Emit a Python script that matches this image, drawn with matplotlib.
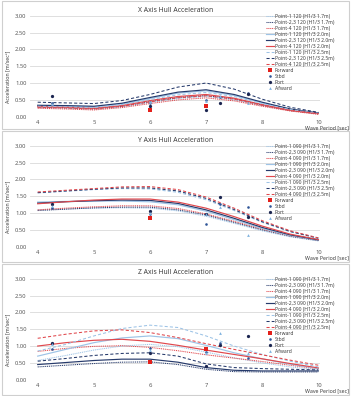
import matplotlib.pyplot as plt
import matplotlib.patches as patches
import numpy as np

plt.rcParams['font.family'] = ['Noto Sans', 'DejaVu Sans']

nan = float('nan')

# x axis categories (evenly spaced in the original sheet)
periods = ['4', '5', '6', '7', '8', '10']
# positions of the curve samples along the category axis
curve_pos = [0, 0.5, 1, 1.5, 2, 2.5, 3, 3.5, 4, 4.5, 5]
# positions of the measured points
meas_pos = [0.25, 2, 3, 3.25, 3.75]

# ---- X axis hull acceleration (heading 120)
x_p1_17 = [0.27, 0.25, 0.22, 0.29, 0.42, 0.54, 0.60, 0.50, 0.33, 0.18, 0.08]
x_p23_17 = [0.29, 0.27, 0.24, 0.31, 0.45, 0.57, 0.63, 0.53, 0.35, 0.19, 0.09]
x_p4_17 = [0.25, 0.23, 0.20, 0.27, 0.39, 0.50, 0.56, 0.47, 0.31, 0.17, 0.07]
x_p1_20 = [0.32, 0.31, 0.29, 0.38, 0.54, 0.70, 0.77, 0.63, 0.41, 0.22, 0.11]
x_p23_20 = [0.34, 0.33, 0.31, 0.40, 0.57, 0.73, 0.80, 0.66, 0.43, 0.23, 0.11]
x_p4_20 = [0.30, 0.28, 0.25, 0.33, 0.48, 0.60, 0.66, 0.55, 0.36, 0.19, 0.09]
x_p1_25 = [0.31, 0.29, 0.27, 0.36, 0.51, 0.65, 0.72, 0.60, 0.39, 0.21, 0.10]
x_p23_25 = [0.43, 0.41, 0.39, 0.48, 0.66, 0.88, 1.00, 0.82, 0.52, 0.28, 0.13]
x_p4_25 = [0.28, 0.26, 0.23, 0.31, 0.44, 0.56, 0.62, 0.52, 0.34, 0.18, 0.09]
x_forward = [nan, 0.20, 0.31, nan, nan]
x_stbd = [0.40, 0.40, 0.51, 0.58, 0.70]
x_port = [0.61, 0.31, 0.20, 0.41, 0.68]
x_afward = [0.37, 0.43, 0.48, 0.61, 0.40]

# ---- Y axis hull acceleration (heading 090)
y_p1_17 = [1.10, 1.13, 1.15, 1.16, 1.15, 1.07, 0.91, 0.70, 0.48, 0.30, 0.18]
y_p23_17 = [1.08, 1.12, 1.16, 1.18, 1.18, 1.10, 0.95, 0.73, 0.51, 0.32, 0.19]
y_p4_17 = [1.10, 1.15, 1.19, 1.22, 1.22, 1.14, 0.98, 0.76, 0.53, 0.33, 0.20]
y_p1_20 = [1.33, 1.35, 1.36, 1.36, 1.34, 1.25, 1.06, 0.81, 0.55, 0.34, 0.20]
y_p23_20 = [1.30, 1.34, 1.37, 1.39, 1.38, 1.29, 1.10, 0.85, 0.58, 0.36, 0.21]
y_p4_20 = [1.28, 1.34, 1.39, 1.42, 1.42, 1.33, 1.15, 0.90, 0.62, 0.38, 0.22]
y_p1_25 = [1.60, 1.65, 1.70, 1.73, 1.72, 1.62, 1.40, 1.08, 0.73, 0.45, 0.26]
y_p23_25 = [1.61, 1.66, 1.71, 1.75, 1.75, 1.66, 1.44, 1.11, 0.75, 0.46, 0.26]
y_p4_25 = [1.63, 1.68, 1.73, 1.78, 1.79, 1.70, 1.48, 1.15, 0.78, 0.48, 0.27]
y_forward = [nan, 0.87, nan, nan, nan]
y_stbd = [1.15, 0.97, 0.68, 1.26, 1.17]
y_port = [1.28, 1.07, 0.98, 1.47, 0.88]
y_afward = [1.20, 1.00, 0.97, 1.18, 0.37]

# ---- Z axis hull acceleration (heading 090)
z_p1_17 = [0.57, 0.72, 0.88, 1.00, 1.05, 0.98, 0.82, 0.65, 0.50, 0.38, 0.29]
z_p23_17 = [0.38, 0.43, 0.48, 0.52, 0.53, 0.45, 0.31, 0.24, 0.23, 0.23, 0.23]
z_p4_17 = [0.84, 0.93, 0.99, 1.01, 0.96, 0.86, 0.74, 0.64, 0.54, 0.43, 0.32]
z_p1_20 = [0.70, 0.90, 1.10, 1.24, 1.30, 1.22, 1.02, 0.80, 0.62, 0.46, 0.33]
z_p23_20 = [0.45, 0.51, 0.57, 0.61, 0.61, 0.52, 0.36, 0.28, 0.26, 0.26, 0.26]
z_p4_20 = [1.00, 1.10, 1.17, 1.20, 1.14, 1.02, 0.88, 0.75, 0.62, 0.48, 0.35]
z_p1_25 = [0.85, 1.05, 1.30, 1.52, 1.62, 1.55, 1.30, 1.00, 0.75, 0.55, 0.38]
z_p23_25 = [0.55, 0.63, 0.72, 0.78, 0.80, 0.70, 0.47, 0.36, 0.33, 0.31, 0.29]
z_p4_25 = [1.23, 1.35, 1.45, 1.48, 1.40, 1.25, 1.07, 0.90, 0.74, 0.58, 0.43]
z_forward = [nan, 0.53, 0.92, nan, nan]
z_stbd = [0.92, 0.95, 0.82, 1.08, 0.64]
z_port = [1.10, 0.80, 0.42, 1.02, 1.30]
z_afward = [1.05, 0.88, 0.80, 1.38, 0.80]

W, H = 351, 396

col_p1 = '#9dc3e6'
col_p23 = '#263a6b'
col_p4 = '#e0474c'
dotted = (0, (1, 0.8))
dashed = (0, (3, 2))


def px_axes(fig, left, top, right, bottom):
    return fig.add_axes([left / W, 1 - bottom / H, (right - left) / W, (bottom - top) / H])


def draw_panel(fig, box, top, bottom, title, hdg, curves, points):
    # panel frame
    fig.add_artist(patches.Rectangle((2 / W, 1 - box[1] / H), 347 / W, (box[1] - box[0]) / H,
                                     transform=fig.transFigure, fill=False, ec='#cfcfcf', lw=0.8))
    ax = px_axes(fig, 30, top, 320, bottom)

    styles = [('Point-1', col_p1), ('Point-2,3', col_p23), ('Point-4', col_p4)]
    heights = [('1.7m', dotted, 0.75), ('2.0m', '-', 0.85), ('2.5m', dashed, 0.75)]
    i = 0
    for hname, ls, lw in heights:
        for pname, col in styles:
            ax.plot(curve_pos, curves[i], color=col, ls=ls, lw=lw,
                    label=f'{pname} {hdg} (H1/3 {hname})')
            i += 1

    fwd, stbd, port, afw = points
    ax.scatter(meas_pos, fwd, marker='s', s=5, color='#e3201b', lw=0, label='Forward', zorder=5)
    ax.scatter(meas_pos, stbd, marker='o', s=3.5, color='#2f5597', lw=0, label='Stbd', zorder=5)
    ax.scatter(meas_pos, port, marker='o', s=5.5, color='#1b2550', lw=0, label='Port', zorder=5)
    ax.scatter(meas_pos, afw, marker='^', s=4, color='#7fb2df', lw=0, label='Afward', zorder=5)

    ax.set_xlim(-0.137, 5.03)
    ax.set_ylim(0, 3)
    ax.set_xticks(range(len(periods)))
    ax.set_xticklabels(periods)
    ax.set_yticks(np.arange(0, 3.01, 0.5))
    ax.set_yticklabels([f'{v:.2f}' for v in np.arange(0, 3.01, 0.5)])
    ax.tick_params(length=0, labelsize=4.2, labelcolor='#595959', pad=2.5)
    for s in ax.spines.values():
        s.set_visible(False)
    ax.yaxis.grid(True, color='#d9d9d9', lw=0.6)
    ax.set_axisbelow(True)

    fig.text(176 / W, 1 - (top - 5.7) / H, title, ha='center', va='center',
             fontsize=4.9, color='#404040')
    fig.text(8 / W, 1 - (top + 61) / H, 'Acceleration [m/sec²]', rotation=90,
             ha='center', va='center', fontsize=3.8, color='#404040')
    fig.text(349 / W, 1 - (bottom + 11) / H, 'Wave Period [sec]', ha='right', va='center',
             fontsize=3.8, color='#404040')

    ax.legend(loc='upper left', bbox_to_anchor=(263 / W, 1 - (top - 4.6) / H),
              bbox_transform=fig.transFigure, frameon=False, fontsize=3.6,
              borderpad=0, labelspacing=0.2, handlelength=1.6, handletextpad=0.25,
              markerscale=1.0, labelcolor='#404040')
    return ax


fig = plt.figure(figsize=(W / 100, H / 100), dpi=100)

draw_panel(fig, (1, 129), 15.7, 116.7, 'X Axis Hull Acceleration', '120',
           [x_p1_17, x_p23_17, x_p4_17, x_p1_20, x_p23_20, x_p4_20, x_p1_25, x_p23_25, x_p4_25],
           [x_forward, x_stbd, x_port, x_afward])
draw_panel(fig, (131, 262), 145.7, 247, 'Y Axis Hull Acceleration', '090',
           [y_p1_17, y_p23_17, y_p4_17, y_p1_20, y_p23_20, y_p4_20, y_p1_25, y_p23_25, y_p4_25],
           [y_forward, y_stbd, y_port, y_afward])
draw_panel(fig, (264, 395), 278.7, 379.7, 'Z Axis Hull Acceleration', '090',
           [z_p1_17, z_p23_17, z_p4_17, z_p1_20, z_p23_20, z_p4_20, z_p1_25, z_p23_25, z_p4_25],
           [z_forward, z_stbd, z_port, z_afward])

plt.savefig('out.png', dpi=100)
